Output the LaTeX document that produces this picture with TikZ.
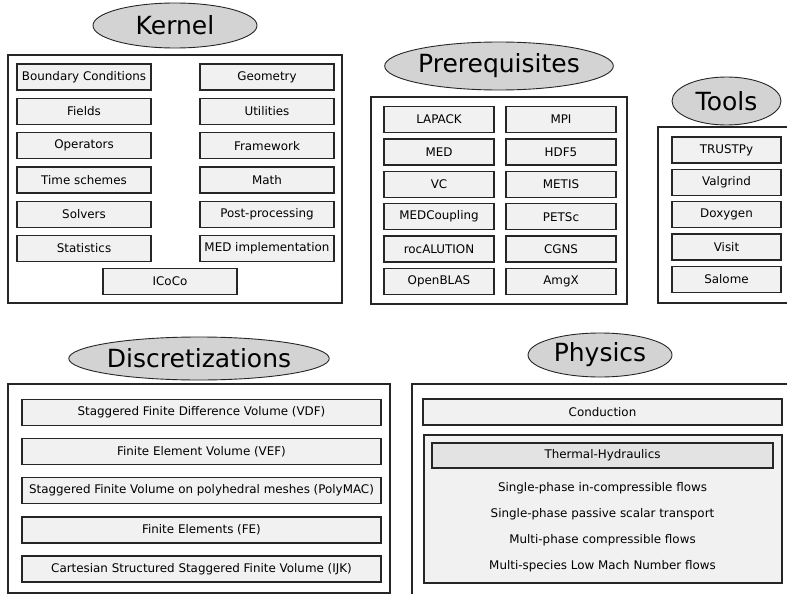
\documentclass[tikz,border=0pt]{standalone}
\usepackage{fontspec}
\setmainfont{DejaVu Sans}
\usetikzlibrary{shapes.geometric}
\definecolor{titlegray}{HTML}{D3D3D3}
\definecolor{itemgray}{HTML}{F1F1F1}
\definecolor{subgray}{HTML}{E3E3E3}
\definecolor{linegray}{HTML}{262626}
\tikzset{
  title/.style={ellipse, draw=linegray, line width=0.9pt, fill=titlegray, inner sep=0pt,
    font=\fontsize{25}{30}\selectfont},
  group/.style={draw=linegray, line width=1.1pt, fill=white},
  item/.style={rectangle, draw=linegray, line width=1.4pt, fill=itemgray, inner sep=0pt,
    minimum height=26pt, font=\fontsize{11.9}{14}\selectfont},
  plain/.style={inner sep=0pt, font=\fontsize{11.9}{14}\selectfont},
}
\begin{document}
\begin{tikzpicture}[x=1pt,y=-1pt]
  \useasboundingbox (0,0) rectangle (787,594);
  % group frames
  \draw[group] (8,55) rectangle (342,303);
  \draw[group] (371,97) rectangle (627,304);
  \draw[group] (658,127) rectangle (800,303);
  \draw[group] (8,384) rectangle (390,593);
  \draw[group] (412,384) rectangle (800,600);
  % titles
  \node[title, minimum width=164pt, minimum height=45pt] (kernel) at (175,25.5) {Kernel};
  \node[title, minimum width=202pt, minimum height=48pt] (prereq) at (499,66) {Prerequisites};
  \node[title, minimum width=109pt, minimum height=48pt] (tools) at (726.5,101) {Tools};
  \node[title, minimum width=238pt, minimum height=43pt] (discr) at (199,358.5) {Discretizations};
  \node[title, minimum width=144pt, minimum height=44pt] (physics) at (600,355) {Physics};
  % kernel
  \begin{scope}[every node/.style={item, minimum width=134pt}]
    \node (bc)    at (84,77)    {Boundary Conditions};
    \node (fld)   at (84,111.3) {Fields};
    \node (ops)   at (84,145.6) {Operators};
    \node (time)  at (84,179.9) {Time schemes};
    \node (solv)  at (84,214.2) {Solvers};
    \node (stat)  at (84,248.5) {Statistics};
    \node (geom)  at (267,77)    {Geometry};
    \node (util)  at (267,111.3) {Utilities};
    \node (frame) at (267,145.6) {Framework};
    \node (math)  at (267,179.9) {Math};
    \node (post)  at (267,214.2) {Post-processing};
    \node (medimp) at (267,248.5) {MED implementation};
    \node (icoco) at (170,281.5) {ICoCo};
  \end{scope}
  % prerequisites
  \begin{scope}[every node/.style={item, minimum width=110pt}]
    \node (lapack)  at (439,119.5) {LAPACK};
    \node (med)     at (439,151.9) {MED};
    \node (vc)      at (439,184.3) {VC};
    \node (medcoup) at (439,216.7) {MEDCoupling};
    \node (roc)     at (439,249.1) {rocALUTION};
    \node (blas)    at (439,281.5) {OpenBLAS};
    \node (mpi)     at (561,119.5) {MPI};
    \node (hdf)     at (561,151.9) {HDF5};
    \node (metis)   at (561,184.3) {METIS};
    \node (petsc)   at (561,216.7) {PETSc};
    \node (cgns)    at (561,249.1) {CGNS};
    \node (amgx)    at (561,281.5) {AmgX};
  \end{scope}
  % tools
  \begin{scope}[every node/.style={item, minimum width=109pt}]
    \node (trustpy)  at (726.5,150)   {TRUSTPy};
    \node (valgrind) at (726.5,182.3) {Valgrind};
    \node (doxygen)  at (726.5,214.6) {Doxygen};
    \node (visit)    at (726.5,246.9) {Visit};
    \node (salome)   at (726.5,279.2) {Salome};
  \end{scope}
  % discretizations
  \begin{scope}[every node/.style={item, minimum width=359pt}]
    \node (vdf)  at (201.5,412.5) {Staggered Finite Difference Volume (VDF)};
    \node (vef)  at (201.5,451.6) {Finite Element Volume (VEF)};
    \node (poly) at (201.5,490.7) {Staggered Finite Volume on polyhedral meshes (PolyMAC)};
    \node (fe)   at (201.5,529.8) {Finite Elements (FE)};
    \node (ijk)  at (201.5,568.9) {Cartesian Structured Staggered Finite Volume (IJK)};
  \end{scope}
  % physics
  \node[item, minimum width=359pt] (cond) at (602.5,412) {Conduction};
  \draw[item] (424,435) rectangle (782,583);
  \node[item, fill=subgray, minimum width=341pt, minimum height=25pt] (th) at (602.5,455.5) {Thermal-Hydraulics};
  \node[plain] (incomp) at (602.5,488)   {Single-phase in-compressible flows};
  \node[plain] (scalar) at (602.5,514)   {Single-phase passive scalar transport};
  \node[plain] (multi)  at (602.5,540)   {Multi-phase compressible flows};
  \node[plain] (lowmach) at (602.5,566.5) {Multi-species Low Mach Number flows};
\end{tikzpicture}
\end{document}
